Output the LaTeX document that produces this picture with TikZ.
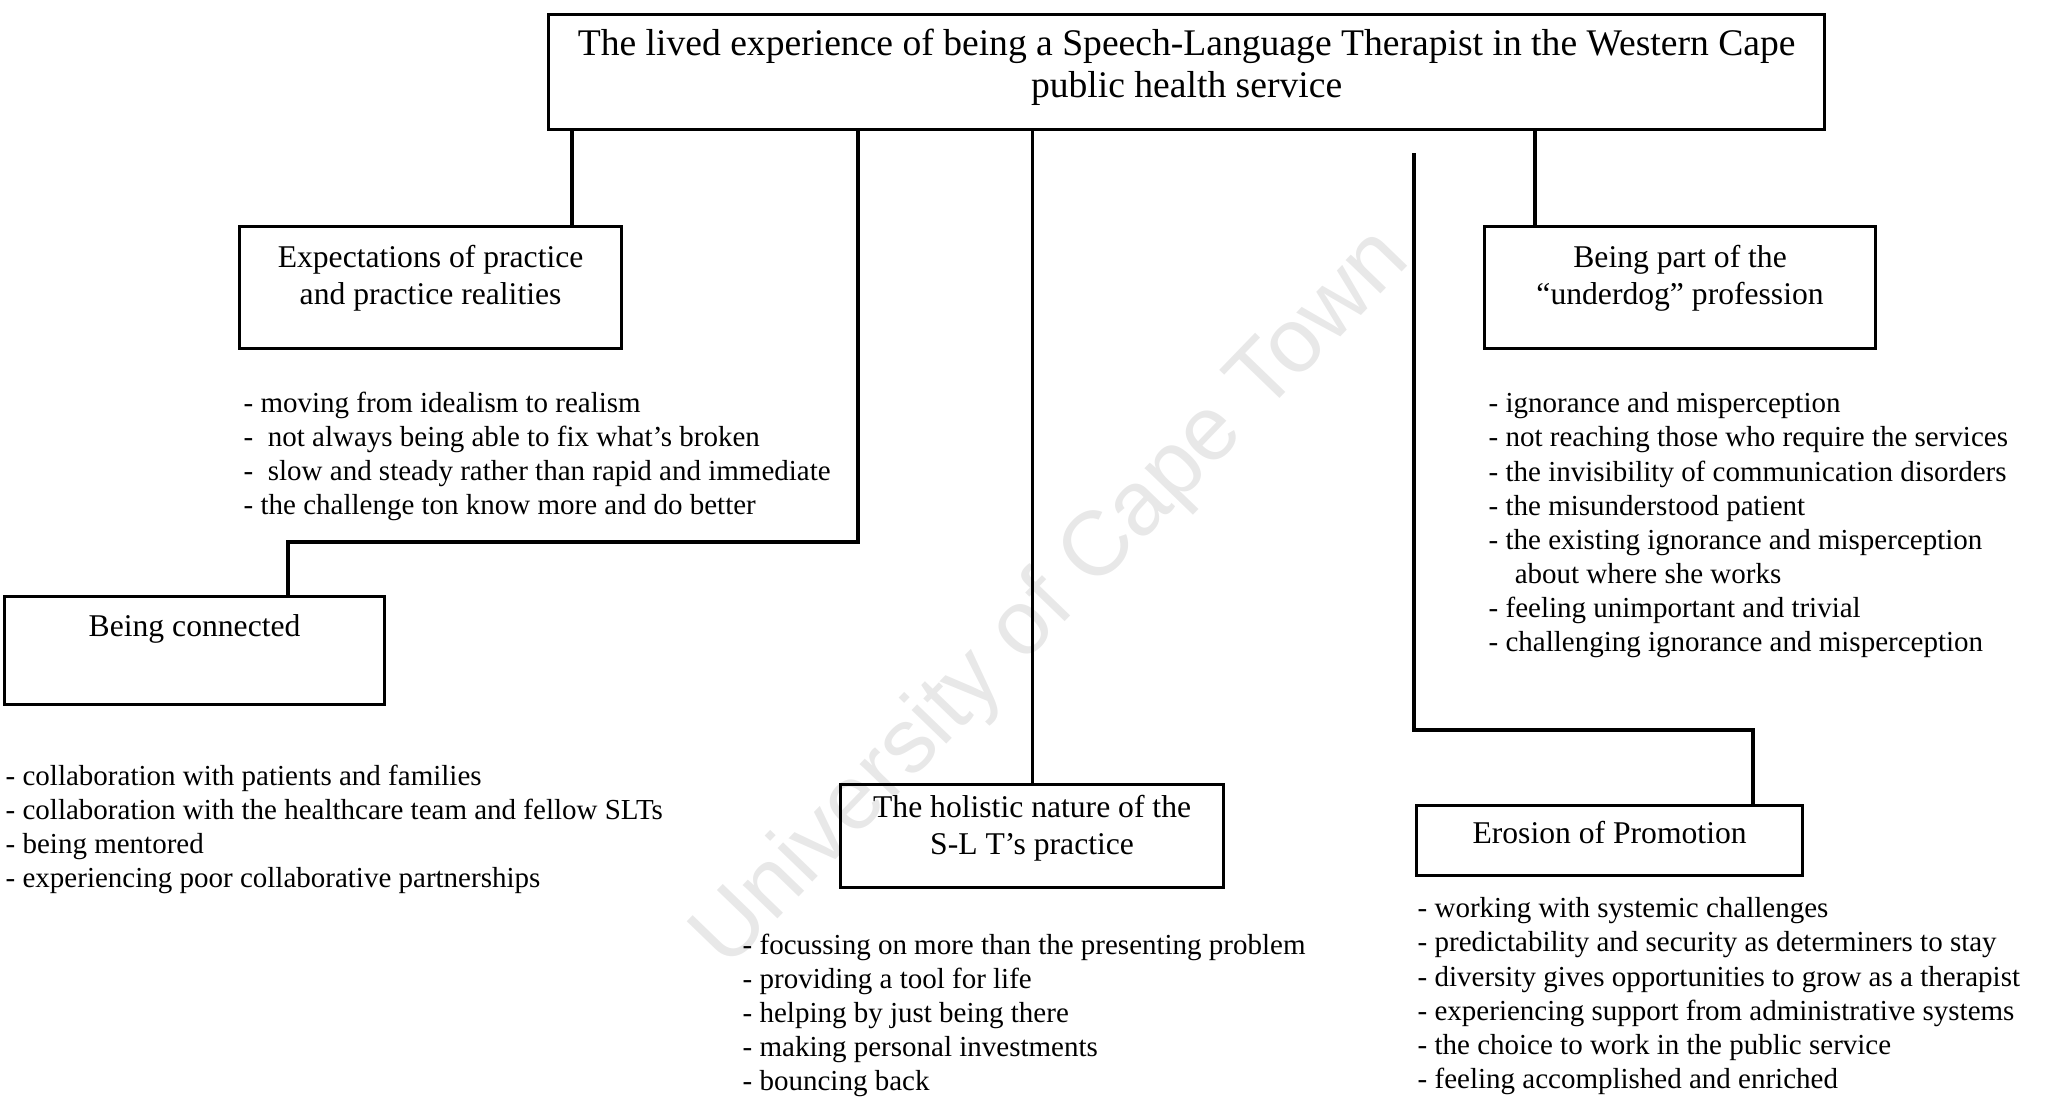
\documentclass[tikz,border=0pt]{standalone}
\usepackage{fontspec}
\setmainfont{Liberation Serif}
\newfontfamily\markfont{Liberation Sans}
\usetikzlibrary{positioning}
\newcommand{\listfont}{\fontsize{8.25}{9.7}\selectfont}
\newcommand{\themefont}{\fontsize{9}{10.4}\selectfont}

\begin{document}
\begin{tikzpicture}[
    theme/.style={draw,line width=0.9pt,inner sep=0pt,anchor=north west},
    themetext/.style={align=center,inner sep=0pt,font=\themefont},
    items/.style={align=left,inner sep=0pt,anchor=north west,font=\listfont},
    link/.style={line width=0.9pt}]
  \useasboundingbox (0,0) rectangle (20.52,-10.96);

  % watermark
  \node [rotate=46,text=black!9,font=\markfont\fontsize{26}{30}\selectfont] (mark) at (10.53,-6.0) {University of Cape Town};

  \node [theme,minimum width=12.76cm,minimum height=1.15cm] (top) at (5.47,-0.13) {};
  \node [align=center,inner sep=0pt,font=\fontsize{10.7}{12}\selectfont,below=0.15cm of top.north] (toptext) {
    The lived experience of being a Speech-Language Therapist in the Western Cape\\
    public health service
  };

  \node [theme,minimum width=3.82cm,minimum height=1.22cm] (expect) at (2.38,-2.25) {};
  \node [themetext,below=0.20cm of expect.north] (expecttext) {
    Expectations of practice\\
    and practice realities
  };
  \node [items] (expectlist) at (2.43,-3.91) {
    - moving from idealism to realism\\
    - \ not always being able to fix what's broken\\
    - \ slow and steady rather than rapid and immediate\\
    - the challenge ton know more and do better
  };

  \node [theme,minimum width=3.80cm,minimum height=1.08cm] (bconn) at (0.03,-5.95) {};
  \node [themetext,below=0.19cm of bconn.north] (bconntext) {Being connected};
  \node [items] (bconnlist) at (0.05,-7.64) {
    - collaboration with patients and families\\
    - collaboration with the healthcare team and fellow SLTs\\
    - being mentored\\
    - experiencing poor collaborative partnerships
  };

  \node [theme,minimum width=3.83cm,minimum height=1.03cm] (holistic) at (8.39,-7.83) {};
  \node [themetext,below=0.12cm of holistic.north] (holistictext) {
    The holistic nature of the\\
    S-L T's practice
  };
  \node [items] (holisticlist) at (7.42,-9.33) {
    - focussing on more than the presenting problem\\
    - providing a tool for life\\
    - helping by just being there\\
    - making personal investments\\
    - bouncing back
  };

  \node [theme,minimum width=3.91cm,minimum height=1.22cm] (part) at (14.83,-2.25) {};
  \node [themetext,below=0.20cm of part.north] (parttext) {
    Being part of the\\
    ``underdog'' profession
  };
  \node [items] (partlist) at (14.88,-3.92) {
    - ignorance and misperception\\
    - not reaching those who require the services\\
    - the invisibility of communication disorders\\
    - the misunderstood patient\\
    - the existing ignorance and misperception\\
    \hspace*{0.9em}about where she works\\
    - feeling unimportant and trivial\\
    - challenging ignorance and misperception
  };

  \node [theme,minimum width=3.86cm,minimum height=0.70cm] (erosion) at (14.15,-8.04) {};
  \node [themetext,below=0.17cm of erosion.north] (erosiontext) {Erosion of Promotion};
  \node [items] (erosionlist) at (14.17,-8.97) {
    - working with systemic challenges\\
    - predictability and security as determiners to stay\\
    - diversity gives opportunities to grow as a therapist\\
    - experiencing support from administrative systems\\
    - the choice to work in the public service\\
    - feeling accomplished and enriched
  };

  % connectors
  \coordinate (expectlink) at (5.72,-2.25);
  \coordinate (bendA) at (8.58,-5.42);
  \coordinate (bendB) at (2.88,-5.42);
  \coordinate (partlink) at (15.35,-2.25);
  \coordinate (gapend) at (14.14,-1.53);
  \coordinate (bendC) at (14.14,-7.30);
  \coordinate (bendD) at (17.53,-7.30);

  \draw[link] (top.south -| expectlink) -- (expect.north -| expectlink);
  \draw[link] (top.south -| bendA) -- (bendA) -- (bendB) -- (bendB |- bconn.north);
  \draw[link] (top.south -| holistic.north) -- (holistic.north);
  \draw[link] (top.south -| partlink) -- (part.north -| partlink);
  \draw[link] (gapend) -- (bendC) -- (bendD) -- (bendD |- erosion.north);
\end{tikzpicture}
\end{document}
